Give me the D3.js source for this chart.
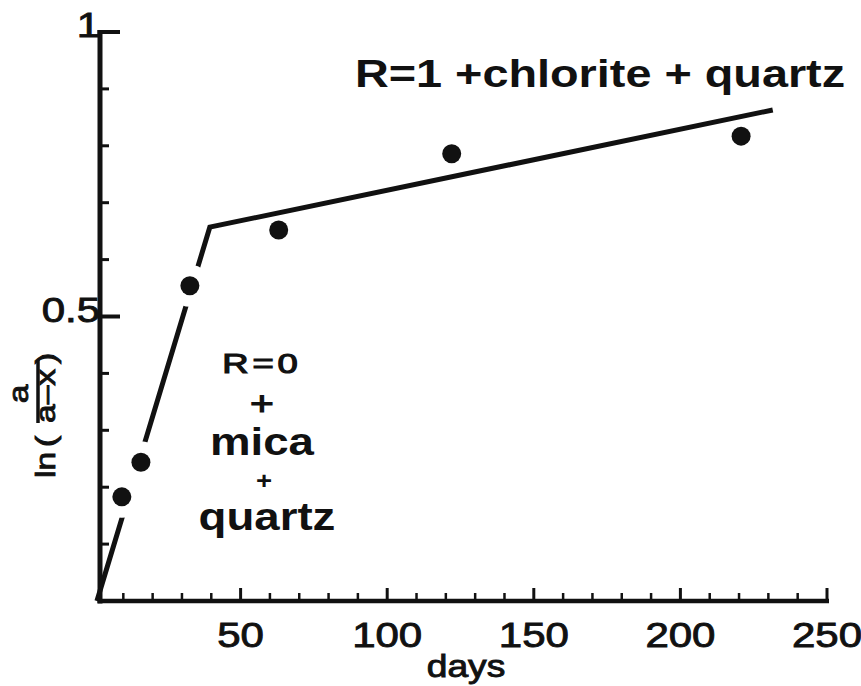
<!DOCTYPE html>
<html>
<head>
<meta charset="utf-8">
<style>
* { margin: 0; padding: 0; }
body { background: #fff; }
svg { display: block; }
text { font-family: "Liberation Sans", Arial, Helvetica, sans-serif; fill: #111; }
</style>
</head>
<body>
<div id="chart"></div>
<script src="https://cdn.jsdelivr.net/npm/d3@7"></script>
<script>

// measured points, ln(a/(a-x)) against time
var days = [9.5, 16, 32.7, 63, 122, 220.7];
var lnValues = [0.183, 0.244, 0.554, 0.652, 0.786, 0.817];

// the two fitted straight lines (start, break, end)
var fitDays = [1, 39.5, 231.5];
var fitValues = [0, 0.657, 0.863];

var xMajor = [50, 100, 150, 200, 250];
var xMajorLabels = ['50', '100', '150', '200', '250'];
var yMajor = [0.5, 1];
var yMajorLabels = ['0.5', '1'];

var ink = '#111';
var stretch = 1.2;   // the typeface in the figure is an extended one

var width = 861, height = 686;
var axisX = 100;

var x = d3.scaleLinear().domain( [ 0, 250 ] ).range( [ 94, 827 ] );
var y = d3.scaleLinear().domain( [ 0, 1 ] ).range( [ 601, 32 ] );

var svg = d3.select( '#chart' ).append( 'svg' )
	.attr( 'width', width )
	.attr( 'height', height );

svg.append( 'rect' ).attr( 'width', width ).attr( 'height', height ).attr( 'fill', '#fff' );

// regular text in the figure is printed heavy, so give it a thin outline
function label( g, px, py, str, size, weight, anchor, sx ) {
	var t = g.append( 'text' )
		.attr( 'transform', 'translate(' + px + ',' + py + ') scale(' + ( sx || stretch ) + ',1)' )
		.attr( 'font-size', size )
		.attr( 'font-weight', weight || 'normal' )
		.attr( 'text-anchor', anchor || 'start' )
		.text( str );
	if ( weight !== 'bold' ) {
		t.attr( 'stroke', ink ).attr( 'stroke-width', 0.9 );
	}
	return t;
}

// fitted lines
var fit = fitDays.map( function ( d, i ) { return [ d, fitValues[i] ]; } );
svg.append( 'path' )
	.datum( fit )
	.attr( 'd', d3.line().x( function ( d ) { return x( d[0] ); } ).y( function ( d ) { return y( d[1] ); } ) )
	.attr( 'fill', 'none' )
	.attr( 'stroke', ink )
	.attr( 'stroke-width', 5 )
	.attr( 'stroke-linejoin', 'miter' );

var pts = days.map( function ( d, i ) { return { d: d, v: lnValues[i] }; } );

// the steep line is broken where it passes the points
svg.selectAll( 'circle.halo' )
	.data( pts.filter( function ( p ) { return p.d < fitDays[1]; } ) )
	.enter().append( 'circle' )
	.attr( 'class', 'halo' )
	.attr( 'cx', function ( p ) { return x( p.d ); } )
	.attr( 'cy', function ( p ) { return y( p.v ); } )
	.attr( 'r', 21 )
	.attr( 'fill', '#fff' );

// axes
svg.append( 'line' )
	.attr( 'x1', axisX ).attr( 'x2', axisX )
	.attr( 'y1', y( 1 ) - 2 ).attr( 'y2', y( 0 ) + 2.5 )
	.attr( 'stroke', ink ).attr( 'stroke-width', 5 );
svg.append( 'line' )
	.attr( 'x1', axisX - 2.5 ).attr( 'x2', x( 250 ) + 2 )
	.attr( 'y1', y( 0 ) ).attr( 'y2', y( 0 ) )
	.attr( 'stroke', ink ).attr( 'stroke-width', 4.5 );

var xMinor = d3.range( 10, 250, 10 ).filter( function ( d ) { return d % 50 !== 0; } );
svg.selectAll( 'line.xminor' )
	.data( xMinor ).enter().append( 'line' )
	.attr( 'class', 'xminor' )
	.attr( 'x1', x ).attr( 'x2', x )
	.attr( 'y1', y( 0 ) ).attr( 'y2', y( 0 ) - 8 )
	.attr( 'stroke', ink ).attr( 'stroke-width', 2.5 );
svg.selectAll( 'line.xmajor' )
	.data( xMajor ).enter().append( 'line' )
	.attr( 'class', 'xmajor' )
	.attr( 'x1', x ).attr( 'x2', x )
	.attr( 'y1', y( 0 ) ).attr( 'y2', y( 0 ) - 13 )
	.attr( 'stroke', ink ).attr( 'stroke-width', 3 );

var yMinor = d3.range( 1, 10 ).map( function ( d ) { return d / 10; } ).filter( function ( d ) { return d !== 0.5; } );
svg.selectAll( 'line.yminor' )
	.data( yMinor ).enter().append( 'line' )
	.attr( 'class', 'yminor' )
	.attr( 'x1', axisX ).attr( 'x2', axisX + 9 )
	.attr( 'y1', y ).attr( 'y2', y )
	.attr( 'stroke', ink ).attr( 'stroke-width', 3 );
svg.selectAll( 'line.ymajor' )
	.data( yMajor ).enter().append( 'line' )
	.attr( 'class', 'ymajor' )
	.attr( 'x1', axisX - 2.5 ).attr( 'x2', axisX + 20 )
	.attr( 'y1', y ).attr( 'y2', y )
	.attr( 'stroke', ink ).attr( 'stroke-width', 4 );

// tick labels
xMajor.forEach( function ( d, i ) {
	label( svg, x( d ), 647, xMajorLabels[i], 35, 'normal', 'middle' );
} );
yMajor.forEach( function ( d, i ) {
	label( svg, axisX, y( d ) + 5, yMajorLabels[i], 35, 'normal', 'end' );
} );

// axis titles
label( svg, 466, 677, 'days', 31, 'normal', 'middle' );

var yt = svg.append( 'g' ).attr( 'transform', 'translate(55,478) rotate(-90)' );
label( yt, 0, 0, 'ln', 28 );
label( yt, 31, 0, '(', 28 );
label( yt, 55, 0, 'a\u2013x', 28 );
label( yt, 114, 0, ')', 28 );
label( yt, 84, -27, 'a', 28, 'normal', 'middle' );
yt.append( 'line' )
	.attr( 'x1', 55 ).attr( 'x2', 118 )
	.attr( 'y1', -17 ).attr( 'y2', -17 )
	.attr( 'stroke', ink ).attr( 'stroke-width', 3.5 );

// annotations
label( svg, 355, 87, 'R=1 +chlorite + quartz', 39, 'bold', 'start' );

var blockX = 262;
label( svg, blockX, 373, 'R=0', 28, 'normal', 'middle', 1.3 ).attr( 'letter-spacing', 3 ).attr( 'stroke-width', 1.2 );
label( svg, blockX, 415, '+', 34, 'normal', 'middle' ).attr( 'stroke-width', 1.2 );
label( svg, blockX, 455, 'mica', 38, 'bold', 'middle' );
label( svg, blockX + 2, 489, '+', 23, 'bold', 'middle' );
label( svg, blockX + 5, 530, 'quartz', 38, 'bold', 'middle' );

// points
svg.selectAll( 'circle.pt' )
	.data( pts ).enter().append( 'circle' )
	.attr( 'class', 'pt' )
	.attr( 'cx', function ( p ) { return x( p.d ); } )
	.attr( 'cy', function ( p ) { return y( p.v ); } )
	.attr( 'r', 9.5 )
	.attr( 'fill', ink );

</script>
</body>
</html>
